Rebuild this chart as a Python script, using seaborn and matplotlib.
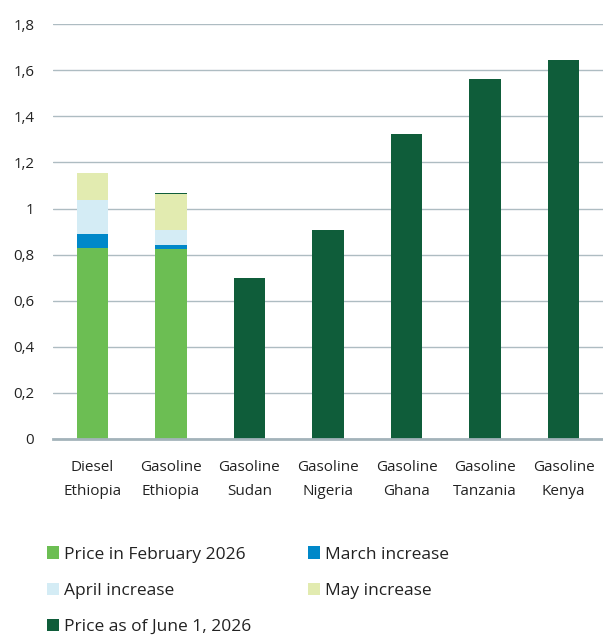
import matplotlib
matplotlib.use("Agg")
import matplotlib.pyplot as plt
import seaborn as sns
import pandas as pd
import numpy as np
from matplotlib.patches import Patch

categories = ["Diesel\nEthiopia", "Gasoline\nEthiopia", "Gasoline\nSudan", "Gasoline\nNigeria",
              "Gasoline\nGhana", "Gasoline\nTanzania", "Gasoline\nKenya"]
price_feb = [0.827, 0.823, 0, 0, 0, 0, 0]
march_inc = [0.062, 0.020, 0, 0, 0, 0, 0]
april_inc = [0.150, 0.063, 0, 0, 0, 0, 0]
may_inc = [0.114, 0.156, 0, 0, 0, 0, 0]
price_june = [0, 0.005, 0.698, 0.909, 1.324, 1.562, 1.643]

series_names = ["Price in February 2026", "March increase", "April increase",
                "May increase", "Price as of June 1, 2026"]
series_values = [price_feb, march_inc, april_inc, may_inc, price_june]
colors = ["#6CBE53", "#0088C9", "#D4ECF5", "#E2EBB0", "#0F5D3A"]

yticks = [0, 0.2, 0.4, 0.6, 0.8, 1.0, 1.2, 1.4, 1.6, 1.8]
ytick_labels = ["0", "0,2", "0,4", "0,6", "0,8", "1", "1,2", "1,4", "1,6", "1,8"]

sns.set_theme(style="white")
plt.rcParams["font.family"] = ["Open Sans", "DejaVu Sans"]

fig = plt.figure(figsize=(6.03, 6.38), dpi=100)
ax = fig.add_axes([0.088, 0.312, 0.912, 0.650])

bottom = np.zeros(len(categories))
for name, vals, col in zip(series_names, series_values, colors):
    df = pd.DataFrame({"cat": categories, "val": vals})
    sns.barplot(data=df, x="cat", y="val", color=col, bottom=bottom, width=0.4,
                ax=ax, saturation=1, edgecolor="none", linewidth=0)
    bottom = bottom + np.array(vals)

ax.set_ylim(0, 1.8)
ax.set_xlim(-0.5, len(categories) - 0.5)
ax.set_yticks(yticks)
ax.set_yticklabels(ytick_labels)
ax.set_xticks(range(len(categories)))
ax.set_xticklabels(categories, linespacing=1.8)
ax.set_xlabel("")
ax.set_ylabel("")
ax.yaxis.grid(True, color="#AEBCC2", linewidth=1.0)
ax.set_axisbelow(True)
for s in ["top", "right", "left"]:
    ax.spines[s].set_visible(False)
ax.spines["bottom"].set_color("#A3B3BA")
ax.spines["bottom"].set_linewidth(2)
ax.tick_params(axis="y", length=0, labelsize=10.8, colors="#222222", pad=13.5)
ax.tick_params(axis="x", length=0, labelsize=11, colors="#222222", pad=15.5)

handles = [Patch(facecolor=c, edgecolor="none") for c in colors]
order = [0, 2, 4, 1, 3]
fig.legend([handles[i] for i in order], [series_names[i] for i in order],
           ncol=2, loc="upper left", bbox_to_anchor=(0.052, 0.168),
           frameon=False, fontsize=12.5, handlelength=0.7, handleheight=0.7,
           handletextpad=0.3, labelspacing=1.15, columnspacing=3.25,
           labelcolor="#222222")

fig.savefig("out.png", dpi=100, facecolor="white")
